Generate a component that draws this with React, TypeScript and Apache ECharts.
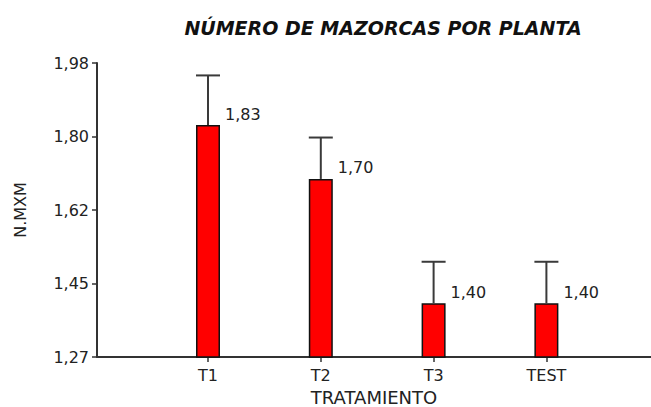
import React, { useEffect, useRef } from "react";
import * as echarts from "echarts";

const categories = ["T1", "T2", "T3", "TEST"];
const values = [1.83, 1.7, 1.4, 1.4];
const errors = [0.12, 0.1, 0.1, 0.1];
const yTickLabels = ["1,27", "1,45", "1,62", "1,80", "1,98"];
const yMin = 1.27;
const yMax = 1.98;
const yStep = 0.1775;

const FONT = "DejaVu Sans";
const TEXT = "#222";
const AXIS = "#333";

export default function App() {
  const ref = useRef<HTMLDivElement>(null);
  useEffect(() => {
    if (!ref.current) return;
    const chart = echarts.init(ref.current, null, { renderer: "svg" });
    const option: any = {
      animation: false,
      backgroundColor: "#fff",
      title: {
        text: "NÚMERO DE MAZORCAS POR PLANTA",
        left: 378,
        top: 13,
        textAlign: "center",
        textStyle: {
          fontFamily: FONT,
          fontSize: 19,
          fontWeight: "bold",
          fontStyle: "italic",
          color: "#111",
        },
      },
      grid: [
        { left: 97, right: 0, top: 63, bottom: 50, outerBoundsMode: "none", containLabel: false },
        { left: 151.6, width: 451.2, top: 63, bottom: 50, outerBoundsMode: "none", containLabel: false },
      ],
      xAxis: [
        {
          gridIndex: 0,
          type: "value",
          min: 0,
          max: 1,
          name: "TRATAMIENTO",
          nameLocation: "middle",
          nameGap: 31,
          nameTextStyle: { fontFamily: FONT, fontSize: 18, color: TEXT },
          axisLine: { show: true, onZero: false, lineStyle: { color: AXIS, width: 2 } },
          axisTick: { show: false },
          axisLabel: { show: false },
          splitLine: { show: false },
        },
        {
          gridIndex: 1,
          type: "category",
          data: categories,
          boundaryGap: true,
          axisLine: { show: false, onZero: false },
          axisTick: { show: true, alignWithLabel: true, length: 5, lineStyle: { color: AXIS, width: 1.5 } },
          axisLabel: { margin: 10, fontFamily: FONT, fontSize: 16, color: TEXT },
          splitLine: { show: false },
        },
      ],
      yAxis: [
        {
          gridIndex: 0,
          type: "value",
          min: yMin,
          max: yMax,
          interval: yStep,
          name: "N.MXM",
          nameLocation: "middle",
          nameGap: 69,
          nameTextStyle: { fontFamily: FONT, fontSize: 16, color: TEXT },
          axisLine: { show: true, onZero: false, lineStyle: { color: AXIS, width: 2 } },
          axisTick: { show: true, length: 5, lineStyle: { color: AXIS, width: 1.5 } },
          axisLabel: {
            margin: 8,
            fontFamily: FONT,
            fontSize: 16,
            color: TEXT,
            formatter: (v: number) => {
              const i = Math.round((v - yMin) / yStep);
              return yTickLabels[i] ?? "";
            },
          },
          splitLine: { show: false },
        },
        {
          gridIndex: 1,
          type: "value",
          min: yMin,
          max: yMax,
          show: false,
          splitLine: { show: false },
        },
      ],
      series: [
        {
          type: "bar",
          xAxisIndex: 1,
          yAxisIndex: 1,
          data: values,
          barWidth: 24,
          itemStyle: { color: "#ff0000", borderColor: "#111", borderWidth: 1.5 },
          label: {
            show: true,
            position: ["100%", 0],
            offset: [5, -11],
            align: "left",
            verticalAlign: "middle",
            fontFamily: FONT,
            fontSize: 16,
            color: TEXT,
            formatter: (p: any) => p.value.toFixed(2).replace(".", ","),
          },
        },
        {
          type: "custom",
          xAxisIndex: 1,
          yAxisIndex: 1,
          z: 5,
          data: categories.map((_, i) => [i, values[i], values[i] + errors[i]]),
          renderItem: (params: any, api: any) => {
            const idx = api.value(0);
            const base = api.coord([idx, api.value(1)]);
            const top = api.coord([idx, api.value(2)]);
            const half = 12;
            const style = { stroke: "#3a3a3a", lineWidth: 2 };
            return {
              type: "group",
              children: [
                { type: "line", shape: { x1: base[0], y1: base[1], x2: top[0], y2: top[1] }, style },
                { type: "line", shape: { x1: top[0] - half, y1: top[1], x2: top[0] + half, y2: top[1] }, style },
              ],
            };
          },
        },
      ],
    };
    chart.setOption(option);
    return () => chart.dispose();
  }, []);
  return <div ref={ref} style={{ width: 651, height: 407, position: "absolute", left: 0, top: 0 }} />;
}
